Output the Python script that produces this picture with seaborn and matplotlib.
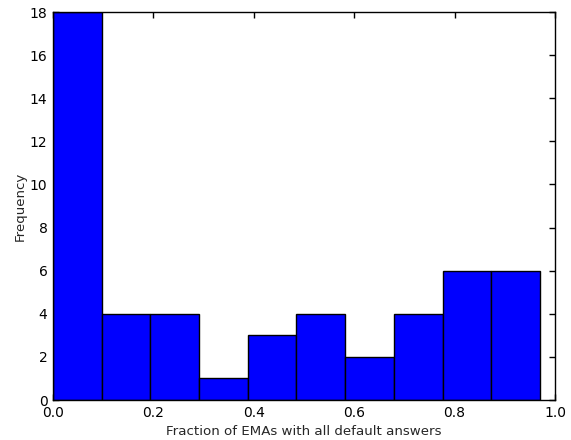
import numpy as np
import matplotlib
matplotlib.use("Agg")
import matplotlib.pyplot as plt
import seaborn as sns

bin_edges = [0.0, 0.097, 0.194, 0.291, 0.388, 0.485, 0.582, 0.679, 0.776, 0.873, 0.970]
counts = [18, 4, 4, 1, 3, 4, 2, 4, 6, 6]
x_ticks = [0.0, 0.2, 0.4, 0.6, 0.8, 1.0]
y_ticks = [0, 2, 4, 6, 8, 10, 12, 14, 16, 18]

sns.set_style("white")
plt.rcParams['font.family'] = ['DejaVu Sans']

centers = [(bin_edges[i] + bin_edges[i + 1]) / 2 for i in range(len(counts))]

fig = plt.figure(figsize=(5.71, 4.40), dpi=100)
ax = fig.add_axes([53 / 571, 40 / 440, (555 - 53) / 571, (400 - 12) / 440])
sns.histplot(x=centers, weights=counts, bins=bin_edges, ax=ax,
             color="#0000ff", alpha=1.0, edgecolor="black", linewidth=1.0)

ax.set_xlim(0, 1.0)
ax.set_ylim(0, 18)
ax.set_xticks(x_ticks)
ax.set_yticks(y_ticks)
ax.set_xticklabels([f"{v:.1f}" for v in x_ticks])
ax.set_yticklabels([str(v) for v in y_ticks])
ax.set_xlabel("Fraction of EMAs with all default answers", fontsize=9.6, labelpad=4)
ax.set_ylabel("Frequency", fontsize=9.6, labelpad=2)
ax.tick_params(direction="in", length=4, width=1, top=True, right=True,
               bottom=True, left=True, labelsize=10, colors="black", pad=4)
for s in ax.spines.values():
    s.set_visible(True)
    s.set_color("black")
    s.set_linewidth(1.0)

fig.savefig("out.png", dpi=100)
